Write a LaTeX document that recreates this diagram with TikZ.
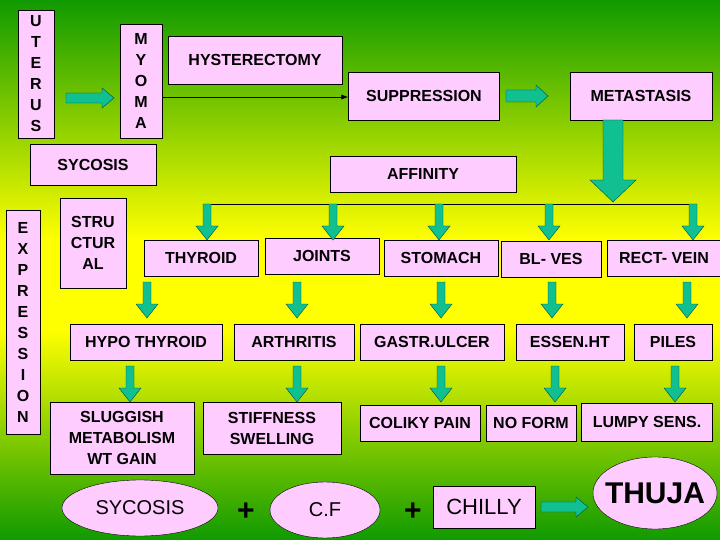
\documentclass[tikz,border=0pt]{standalone}
\usepackage{fontspec}
\setmainfont{Liberation Sans}
\usetikzlibrary{arrows.meta,shapes.geometric}
\definecolor{pinkb}{HTML}{FFCCFF}
\definecolor{teal2}{HTML}{10C090}
\definecolor{grn}{HTML}{109A00}
\definecolor{yel}{HTML}{FFFF00}
\begin{document}
\begin{tikzpicture}[x=1pt,y=-1pt,
  box/.style={draw=black,fill=pinkb,inner sep=0pt,font=\fontsize{16}{21}\selectfont\bfseries,align=center},
  ell/.style={draw=black,fill=pinkb},
  pl/.style={font=\fontsize{30}{30}\selectfont\bfseries}]
\shade[top color=grn,bottom color=yel] (0,0) rectangle (720,240);
\fill[yel] (0,239) rectangle (720,331);
\shade[top color=yel,bottom color=grn] (0,330) rectangle (720,540);
\useasboundingbox (0,0) rectangle (720,540);
\newcommand\dnar[5]{% x, y1, y2, half shaft, head length
 \filldraw[fill=teal2,draw=black!60!teal2] (#1-#4,#2) -- (#1+#4,#2) -- (#1+#4,#3-#5) -- (#1+2*#4+3,#3-#5) -- (#1,#3) -- (#1-2*#4-3,#3-#5) -- (#1-#4,#3-#5) -- cycle;}
\newcommand\rtar[4]{% y, x1, x2, half shaft
 \filldraw[fill=teal2,draw=black!60!teal2] (#2,#1-#4) -- (#3-12,#1-#4) -- (#3-12,#1-#4-5) -- (#3,#1) -- (#3-12,#1+#4+5) -- (#3-12,#1+#4) -- (#2,#1+#4) -- cycle;}
% top
\node[box,minimum width=36,minimum height=128] (ut) at (36,74) {U\\T\\E\\R\\U\\S};
\node[box,minimum width=42,minimum height=114] (my) at (141,81) {M\\Y\\O\\M\\A};
\node[box,minimum width=174,minimum height=48] (hy) at (255,60) {HYSTERECTOMY};
\node[box,minimum width=151,minimum height=48] (su) at (424,96) {SUPPRESSION};
\node[box,minimum width=142,minimum height=48] (me) at (641,96) {METASTASIS};
\node[box,minimum width=126,minimum height=41] (sy) at (93,165) {SYCOSIS};
\node[box,minimum width=186,minimum height=36] (af) at (423,174) {AFFINITY};
\rtar{98}{66}{114}{5}
\draw[-{Latex[length=7pt]},thick] (my.east|-0,97) -- (su.west|-0,97);
\rtar{96}{506}{548}{6}
\dnar{613}{120}{202}{10}{22}
\draw[thick] (207,204) -- (693,204);
% row 2
\node[box,minimum width=34,minimum height=224] (ex) at (23,322) {E\\X\\P\\R\\E\\S\\S\\I\\O\\N};
\node[box,minimum width=66,minimum height=90] (st) at (93,243) {STRU\\CTUR\\AL};
\node[box,minimum width=114,minimum height=36] (th) at (201,258) {THYROID};
\node[box,minimum width=114,minimum height=36] (jo) at (322,256) {JOINTS};
\node[box,minimum width=114,minimum height=36] (sm) at (441,258) {STOMACH};
\node[box,minimum width=100,minimum height=36] (bl) at (551,259) {BL- VES};
\node[box,minimum width=113,minimum height=36] (rv) at (664,258) {RECT- VEIN};
\foreach \x in {207,333,439,549,693} {\dnar{\x}{204}{240}{4}{14}}
\foreach \x in {147,297,441,552,687} {\dnar{\x}{282}{318}{4}{14}}
% row 3
\node[box,minimum width=152,minimum height=36] (hp) at (146,342) {HYPO THYROID};
\node[box,minimum width=120,minimum height=36] (ar) at (294,342) {ARTHRITIS};
\node[box,minimum width=144,minimum height=36] (ga) at (432,342) {GASTR.ULCER};
\node[box,minimum width=108,minimum height=36] (es) at (570,342) {ESSEN.HT};
\node[box,minimum width=78,minimum height=36] (pi) at (673,342) {PILES};
\foreach \x in {130,297,441,555,675} {\dnar{\x}{366}{402}{4}{14}}
% row 4
\node[box,minimum width=144,minimum height=72] (sl) at (122,438) {SLUGGISH\\METABOLISM\\WT GAIN};
\node[box,minimum width=138,minimum height=52] (sf) at (272,428) {STIFFNESS\\SWELLING};
\node[box,minimum width=120,minimum height=36] (co) at (420,423) {COLIKY PAIN};
\node[box,minimum width=90,minimum height=36] (nf) at (531,423) {NO FORM};
\node[box,minimum width=131,minimum height=38] (lu) at (647,422) {LUMPY SENS.};
% bottom
\draw[ell] (140,508) ellipse [x radius=78,y radius=28];
\node[font=\fontsize{20}{24}\selectfont] (sy2) at (140,508) {SYCOSIS};
\node[pl] (p1) at (246,512) {+};
\draw[ell] (325,510) ellipse [x radius=55,y radius=28];
\node[font=\fontsize{20}{24}\selectfont] (cf) at (325,510) {C.F};
\node[pl] (p2) at (413,512) {+};
\node[box,minimum width=102,minimum height=42,font=\fontsize{22}{24}\selectfont] (ch) at (484,507) {CHILLY};
\rtar{507}{541}{588}{5}
\draw[ell] (655,493) ellipse [x radius=62,y radius=36];
\node[font=\fontsize{30}{32}\selectfont\bfseries] (tj) at (655,493) {THUJA};
\end{tikzpicture}
\end{document}
